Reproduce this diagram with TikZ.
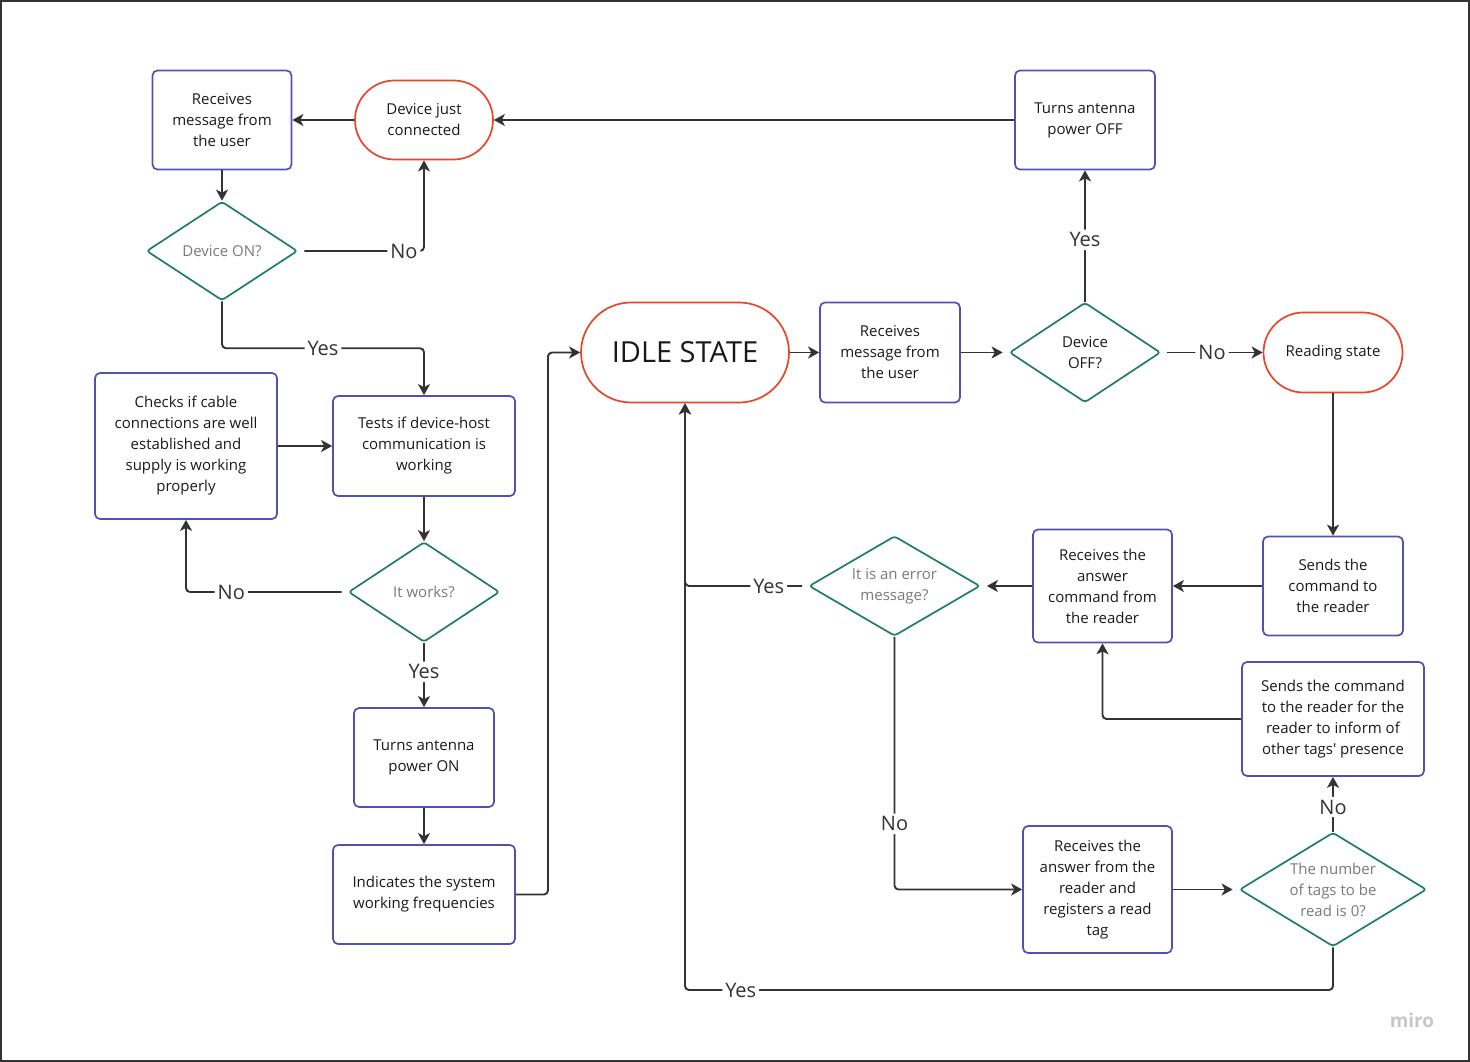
\documentclass[tikz,border=0pt]{standalone}
\usepackage{fontspec}
\setmainfont{Open Sans}
\usetikzlibrary{shapes.geometric,shapes.misc,arrows.meta,calc}
\definecolor{boxblue}{HTML}{4F52B2}
\definecolor{termred}{HTML}{E8452C}
\definecolor{decgreen}{HTML}{1E7F5E}
\definecolor{txt}{HTML}{1A1A1A}
\definecolor{dectxt}{HTML}{7A7A7A}
\definecolor{linec}{HTML}{333333}
\newcommand\bxfont{\fontsize{15}{21}\selectfont}
\newcommand\lbfont{\fontsize{20}{24}\selectfont}
\newcommand\idlefont{\fontsize{29}{34}\selectfont}
\tikzset{
  box/.style={draw=boxblue, line width=1.7pt, rounded corners=5pt, fill=white, align=center, font=\bxfont, text=txt, inner sep=0pt},
  term/.style={draw=termred, line width=1.7pt, shape=rounded rectangle, fill=white, align=center, font=\bxfont, text=txt, inner sep=0pt},
  dec/.style={diamond, draw=decgreen, line width=1.7pt, rounded corners=3pt, fill=white, inner sep=0pt},
  dtext/.style={align=center, font=\bxfont, text=dectxt},
  lbl/.style={fill=white, font=\lbfont, text=linec, inner sep=3pt},
  conn/.style={draw=linec, line width=1.9pt, rounded corners=4pt, -{Stealth[length=11pt,width=12pt,inset=3pt]}},
  fromdec/.style={shorten <=6pt},
  todec/.style={shorten >=6pt},
}
\begin{document}
\begin{tikzpicture}[x=1pt,y=-1pt]
\useasboundingbox (0,0) rectangle (1470,1062);
\draw[linec, line width=2pt] (1,1) rectangle (1469,1061);

% nodes
\node[box, minimum width=139pt, minimum height=99pt] (recv1) at (222,120) {Receives\\message from\\the user};
\node[term, minimum width=138pt, minimum height=79pt] (devconn) at (424,120) {Device just\\connected};
\node[box, minimum width=140pt, minimum height=99pt] (turnoff) at (1085,120) {Turns antenna\\power OFF};
\node[dec, minimum width=151pt, minimum height=99pt, label={[dtext]center:Device ON?}] (devON) at (222,251) {};
\node[term, minimum width=208pt, minimum height=100pt, font=\idlefont] (idle) at (685,352.5) {IDLE STATE};
\node[box, minimum width=140pt, minimum height=100pt] (recv2) at (890,352.5) {Receives\\message from\\the user};
\node[dec, minimum width=151pt, minimum height=100pt, label={[dtext,text=txt]center:Device\\OFF?}] (devOFF) at (1085,352.5) {};
\node[term, minimum width=139pt, minimum height=80pt] (reading) at (1333,352.5) {Reading state};
\node[box, minimum width=182pt, minimum height=146pt] (checks) at (186,446) {Checks if cable\\connections are well\\established and\\supply is working\\properly};
\node[box, minimum width=182pt, minimum height=100pt] (tests) at (424,446) {Tests if device-host\\communication is\\working};
\node[dec, minimum width=151pt, minimum height=100pt, label={[dtext]center:It works?}] (itworks) at (424,592) {};
\node[box, minimum width=140pt, minimum height=99pt] (turnon) at (424,757.5) {Turns antenna\\power ON};
\node[box, minimum width=182pt, minimum height=99pt] (indicates) at (424,894.5) {Indicates the system\\working frequencies};
\node[dec, minimum width=171pt, minimum height=100pt, label={[dtext]center:It is an error\\message?}] (errmsg) at (894.5,586) {};
\node[box, minimum width=139pt, minimum height=113pt] (recvans) at (1102.5,586) {Receives the\\answer\\command from\\the reader};
\node[box, minimum width=140pt, minimum height=99pt] (sendscmd) at (1333,586) {Sends the\\command to\\the reader};
\node[box, minimum width=182pt, minimum height=114pt] (sendsother) at (1333,719) {Sends the command\\to the reader for the\\reader to inform of\\other tags\textquotesingle{} presence};
\node[box, minimum width=149pt, minimum height=127pt] (recvreg) at (1097.5,889.5) {Receives the\\answer from the\\reader and\\registers a read\\tag};
\node[dec, minimum width=187pt, minimum height=114pt, label={[dtext]center:The number\\of tags to be\\read is 0?}] (numtags) at (1333,889.5) {};
\coordinate (botc) at (685,990);

% connectors
\draw[conn] (devconn.west) -- (recv1.east);
\draw[conn] (turnoff.west) -- (devconn.east);
\draw[conn] (recv1.south) -- (devON.north);
\draw[conn, fromdec] (devON.east) -| node[lbl, pos=0.42]{No} (devconn.south);
\draw[conn] (devON.south) |- ($(devON.south)!0.5!(tests.north)$) node[lbl]{Yes} -| (tests.north);
\draw[conn] (checks.east) -- (tests.west);
\draw[conn] (tests.south) -- (itworks.north);
\draw[conn, fromdec] (itworks.west) -| node[lbl, pos=0.36]{No} (checks.south);
\draw[conn] (itworks.south) -- node[lbl, pos=0.45]{Yes} (turnon.north);
\draw[conn] (turnon.south) -- (indicates.north);
\draw[conn] (indicates.east) -| ($(indicates.east)!0.5!(idle.west)$) |- (idle.west);
\draw[conn] (idle.east) -- (recv2.west);
\draw[conn, todec] (recv2.east) -- (devOFF.west);
\draw[conn, fromdec] (devOFF.east) -- node[lbl]{No} (reading.west);
\draw[conn] (devOFF.north) -- node[lbl, pos=0.47]{Yes} (turnoff.south);
\draw[conn] (reading.south) -- (sendscmd.north);
\draw[conn] (sendscmd.west) -- (recvans.east);
\draw[conn, todec] (recvans.west) -- (errmsg.east);
\draw[conn, fromdec] (errmsg.west) -| node[lbl, pos=0.16]{Yes} (idle.south);
\draw[conn] (errmsg.south) |- node[lbl, pos=0.37]{No} (recvreg.west);
\draw[conn, todec] (recvreg.east) -- (numtags.west);
\draw[conn] (numtags.north) -- node[lbl, pos=0.45]{No} (sendsother.south);
\draw[conn] (sendsother.west) -| (recvans.south);
\draw[conn] (numtags.south) |- node[lbl, pos=0.957]{Yes} (botc) -- (idle.south);

\node[text=black!22, font=\fontsize{19}{22}\selectfont\bfseries] (miro) at (1412,1020) {miro};
\end{tikzpicture}
\end{document}
